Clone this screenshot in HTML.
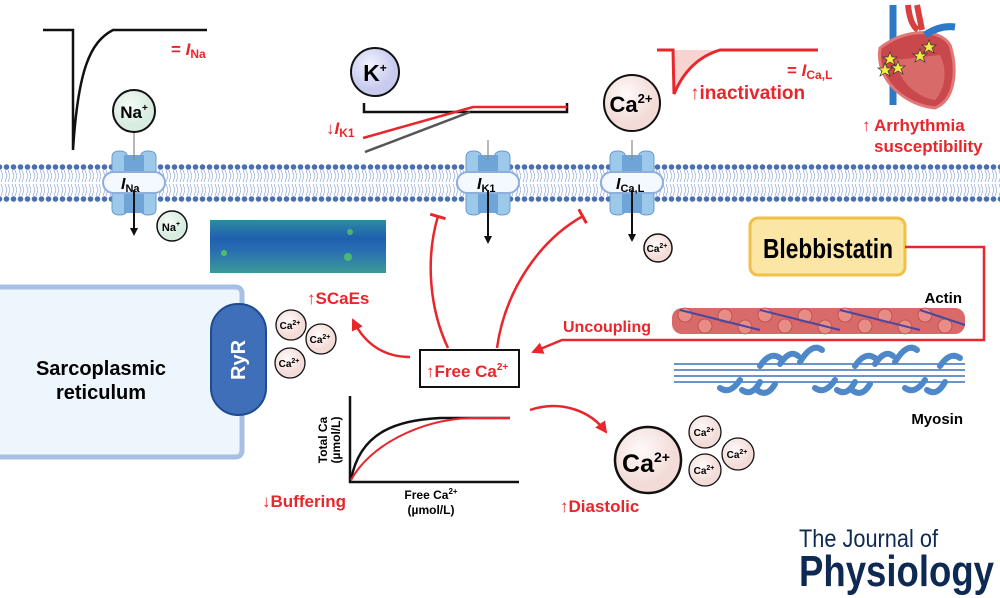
<!DOCTYPE html>
<html><head><meta charset="utf-8"><style>
html,body{margin:0;padding:0;background:#fff;}
svg{display:block;font-family:"Liberation Sans",sans-serif;}
.b{font-weight:bold}
.r{fill:#e8262c}
</style></head><body>
<svg width="1000" height="598" viewBox="0 0 1000 598" xmlns="http://www.w3.org/2000/svg">
<defs>
<pattern id="mem" x="3" y="0" width="7" height="598" patternUnits="userSpaceOnUse">
<circle cx="3.5" cy="167" r="2.8" fill="#4a6fb0"/>
<circle cx="3.5" cy="199" r="2.8" fill="#4a6fb0"/>
<path d="M2 170 L4 176 L2 182 M5 170 L7 176 L5 182 M2 184 L4 190 L2 196 M5 184 L7 190 L5 196" stroke="#8fa8d8" stroke-width="0.7" fill="none"/>
</pattern>
<marker id="ab" markerWidth="8" markerHeight="8" refX="4" refY="4" orient="auto" markerUnits="userSpaceOnUse"><path d="M0 0 L8 4 L0 8 Z" fill="#111"/></marker>
<marker id="ar" markerWidth="14" markerHeight="12" refX="10" refY="6" orient="auto" markerUnits="userSpaceOnUse"><path d="M0 0 L12 6 L0 12 Z" fill="#e8262c"/></marker>
<marker id="tb" markerWidth="4" markerHeight="16" refX="2" refY="8" orient="auto" markerUnits="userSpaceOnUse"><rect x="0" y="0" width="3" height="16" fill="#e8262c"/></marker>
<radialGradient id="gNa" cx="40%" cy="35%"><stop offset="0" stop-color="#f4fbf6"/><stop offset="1" stop-color="#d8ece0"/></radialGradient>
<radialGradient id="gK" cx="40%" cy="35%"><stop offset="0" stop-color="#f2f2ff"/><stop offset="1" stop-color="#c8cbee"/></radialGradient>
<radialGradient id="gCa" cx="40%" cy="35%"><stop offset="0" stop-color="#fffafa"/><stop offset="1" stop-color="#f3dcd8"/></radialGradient>
<linearGradient id="sc" x1="0" y1="0" x2="0" y2="1"><stop offset="0" stop-color="#2f8aa0"/><stop offset=".35" stop-color="#1f5fb0"/><stop offset=".6" stop-color="#2a70b0"/><stop offset="1" stop-color="#3a9a98"/></linearGradient>
</defs>

<rect x="0" y="160" width="1000" height="45" fill="url(#mem)"/>

<g id="ch">
<path d="M112 157 q0-6 8-6 q8 0 8 8 v0 h12 q0-8 8-8 q8 0 8 6 v52 q0 6-8 6 q-8 0-8-8 h-12 q0 8-8 8 q-8 0-8-6 z" fill="#9cc8ea" stroke="#6a9ccc" stroke-width="1"/>
<rect x="124" y="155" width="20" height="58" fill="#6ea4d6"/>
<rect x="103" y="172" width="62" height="21" rx="10.5" fill="#f4f8ff" stroke="#8eaedc" stroke-width="2"/>
</g>
<use href="#ch" x="354"/>
<use href="#ch" x="498"/>
<text x="121" y="189" class="b" font-size="16" font-style="italic">I<tspan font-size="11" font-style="normal" dy="3">Na</tspan></text>
<text x="477" y="189" class="b" font-size="16" font-style="italic">I<tspan font-size="11" font-style="normal" dy="3">K1</tspan></text>
<text x="616" y="189" class="b" font-size="16" font-style="italic">I<tspan font-size="11" font-style="normal" dy="3">Ca,L</tspan></text>

<line x1="134" y1="132" x2="134" y2="160" stroke="#888" stroke-width="1.2"/>
<line x1="134" y1="190" x2="134" y2="232" stroke="#111" stroke-width="2" marker-end="url(#ab)"/>
<line x1="488" y1="140" x2="488" y2="160" stroke="#888" stroke-width="1.2"/>
<line x1="488" y1="190" x2="488" y2="240" stroke="#111" stroke-width="2" marker-end="url(#ab)"/>
<line x1="632" y1="140" x2="632" y2="160" stroke="#888" stroke-width="1.2"/>
<line x1="632" y1="190" x2="632" y2="238" stroke="#111" stroke-width="2" marker-end="url(#ab)"/>

<circle cx="134" cy="111" r="21" fill="url(#gNa)" stroke="#111" stroke-width="2"/>
<text x="134" y="118" text-anchor="middle" class="b" font-size="17">Na<tspan font-size="10" dy="-7">+</tspan></text>
<circle cx="172" cy="226" r="15" fill="url(#gNa)" stroke="#111" stroke-width="1.5"/>
<text x="171" y="231" text-anchor="middle" class="b" font-size="11">Na<tspan font-size="7" dy="-5">+</tspan></text>
<circle cx="375" cy="72" r="24" fill="url(#gK)" stroke="#111" stroke-width="2"/>
<text x="375" y="81" text-anchor="middle" class="b" font-size="23">K<tspan font-size="12" dy="-9">+</tspan></text>
<circle cx="632" cy="103" r="28" fill="url(#gCa)" stroke="#111" stroke-width="2"/>
<text x="631" y="112" text-anchor="middle" class="b" font-size="22">Ca<tspan font-size="13" dy="-9">2+</tspan></text>
<circle cx="658" cy="248" r="14" fill="url(#gCa)" stroke="#111" stroke-width="1.5"/>
<text x="657" y="252" text-anchor="middle" class="b" font-size="10">Ca<tspan font-size="7" dy="-4">2+</tspan></text>

<path d="M43 30 H73 V150 C78 70 90 42 113 30 H207" fill="none" stroke="#111" stroke-width="2.5"/>
<text x="171" y="55" class="b r" font-size="17">= <tspan font-style="italic">I</tspan><tspan font-size="12" dy="3">Na</tspan></text>

<path d="M364 103 V112 H567 V103" fill="none" stroke="#111" stroke-width="2.5"/>
<path d="M365 152 L470 112" stroke="#555" stroke-width="2.5"/>
<path d="M363 138 L473 107 L567 107" fill="none" stroke="#e8262c" stroke-width="2.5"/>
<text x="326" y="134" class="b r" font-size="17">↓<tspan font-style="italic">I</tspan><tspan font-size="12" dy="3">K1</tspan></text>

<path d="M659 50 H673 L674 94 C684 70 700 56 720 50 Z" fill="#f8d4d0"/>
<path d="M657 50 H673 L674 94 C684 70 700 56 720 50 H818" fill="none" stroke="#e8262c" stroke-width="3"/>
<text x="787" y="76" class="b r" font-size="17">= <tspan font-style="italic">I</tspan><tspan font-size="12" dy="3">Ca,L</tspan></text>
<text x="690" y="99" class="b r" font-size="19">↑inactivation</text>

<g>
<path d="M893 5 v100" stroke="#2e78c8" stroke-width="7"/>
<path d="M908 5 q2 20 10 25 M917 5 q2 10 5 25" stroke="#d84040" stroke-width="6" fill="none"/>
<path d="M880 48 C875 80 905 105 935 108 C955 100 958 70 950 45 C940 28 905 28 880 48Z" fill="#c8484c" stroke="#e07878" stroke-width="3"/>
<path d="M895 60 C900 85 920 98 935 100 C945 90 948 70 940 55Z" fill="#d86a6a"/>
<path d="M925 35 q15 -10 30 -8" stroke="#2e78c8" stroke-width="7" fill="none"/>
<g fill="#f4ec40" stroke="#333" stroke-width=".7">
<polygon points="890,52 892,57 897,57 893,60 895,65 890,62 885,65 887,60 883,57 888,57"/>
<polygon points="885,63 887,68 892,68 888,71 890,76 885,73 880,76 882,71 878,68 883,68"/>
<polygon points="898,61 900,66 905,66 901,69 903,74 898,71 893,74 895,69 891,66 896,66"/>
<polygon points="920,49 922,54 927,54 923,57 925,62 920,59 915,62 917,57 913,54 918,54"/>
<polygon points="929,40 931,45 936,45 932,48 934,53 929,50 924,53 926,48 922,45 927,45"/>
</g>
</g>
<text x="862" y="131" class="b r" font-size="17">↑</text>
<text x="874" y="131" class="b r" font-size="17">Arrhythmia</text>
<text x="874" y="152" class="b r" font-size="17">susceptibility</text>

<rect x="750" y="218" width="155" height="57" rx="8" fill="#fbe6a6" stroke="#f0c048" stroke-width="3"/>
<text x="763" y="258" class="b" font-size="28" textLength="130" lengthAdjust="spacingAndGlyphs">Blebbistatin</text>
<path d="M905 247 H984 V340 H562 L533 352" fill="none" stroke="#e8262c" stroke-width="2.5" marker-end="url(#ar)"/>
<text x="563" y="332" class="b r" font-size="16">Uncoupling</text>

<g>
<rect x="672" y="308" width="293" height="26" rx="10" fill="#d86a6a"/>
<g fill="#e88c88" stroke="#c04848" stroke-width=".8">
<circle cx="685" cy="315" r="7"/><circle cx="705" cy="326" r="7"/><circle cx="725" cy="316" r="7"/><circle cx="745" cy="327" r="7"/><circle cx="765" cy="315" r="7"/><circle cx="785" cy="326" r="7"/><circle cx="805" cy="316" r="7"/><circle cx="825" cy="327" r="7"/><circle cx="845" cy="315" r="7"/><circle cx="865" cy="326" r="7"/><circle cx="885" cy="316" r="7"/><circle cx="905" cy="327" r="7"/><circle cx="925" cy="315" r="7"/><circle cx="945" cy="326" r="7"/>
</g>
<path d="M680 310 L760 330 M760 310 L840 330 M840 310 L920 330 M920 310 L965 325" stroke="#4848a0" stroke-width="2"/>
</g>
<text x="962" y="303" text-anchor="end" class="b" font-size="15">Actin</text>
<g stroke="#3a70b8" stroke-width="1.5">
<line x1="674" y1="364" x2="965" y2="364"/><line x1="674" y1="370" x2="965" y2="370"/><line x1="674" y1="376" x2="965" y2="376"/><line x1="674" y1="382" x2="965" y2="382"/>
</g>
<g fill="none" stroke="#4e88c8" stroke-width="6" stroke-linecap="round">
<path d="M760 366 q10-15 20-8"/><path d="M780 364 q10-15 18-8"/><path d="M800 362 q12-20 22-12"/>
<path d="M855 366 q10-15 20-8"/><path d="M875 364 q10-15 18-8"/><path d="M895 362 q12-20 22-12"/>
<path d="M940 366 q10-15 20-8"/>
<path d="M740 380 q-10 15 -20 8"/><path d="M760 382 q-8 15 -18 8"/><path d="M775 384 q-8 14 -18 6"/>
<path d="M835 380 q-10 15 -20 8"/><path d="M855 382 q-8 15 -18 8"/><path d="M870 384 q-8 14 -18 6"/>
<path d="M925 380 q-10 15 -20 8"/><path d="M945 382 q-8 15 -18 8"/>
</g>
<text x="963" y="424" text-anchor="end" class="b" font-size="15">Myosin</text>

<rect x="210" y="220" width="176" height="53" fill="url(#sc)"/>
<circle cx="224" cy="253" r="3" fill="#5cd05c" opacity=".8"/>
<circle cx="350" cy="232" r="3" fill="#5cd05c" opacity=".7"/>
<circle cx="348" cy="257" r="4" fill="#5cd05c" opacity=".7"/>

<path d="M0 287 H235 q7 0 7 7 V450 q0 7 -7 7 H0" fill="#eef6fd" stroke="#a6bfe4" stroke-width="5"/>
<text x="101" y="375" text-anchor="middle" class="b" font-size="20">Sarcoplasmic</text>
<text x="101" y="399" text-anchor="middle" class="b" font-size="20">reticulum</text>
<rect x="211" y="304" width="55" height="111" rx="27" fill="#3f6fb8" stroke="#1f4a90" stroke-width="2"/>
<text x="0" y="0" transform="translate(245 360) rotate(-90)" text-anchor="middle" class="b" font-size="20" fill="#fff">RyR</text>

<g font-size="10" class="b" text-anchor="middle">
<circle cx="291" cy="325" r="15" fill="url(#gCa)" stroke="#111" stroke-width="1.3"/><text x="290" y="329">Ca<tspan font-size="7" dy="-4">2+</tspan></text>
<circle cx="321" cy="339" r="15" fill="url(#gCa)" stroke="#111" stroke-width="1.3"/><text x="320" y="343">Ca<tspan font-size="7" dy="-4">2+</tspan></text>
<circle cx="290" cy="363" r="15" fill="url(#gCa)" stroke="#111" stroke-width="1.3"/><text x="289" y="367">Ca<tspan font-size="7" dy="-4">2+</tspan></text>
</g>
<text x="307" y="304" class="b r" font-size="17">↑SCaEs</text>
<path d="M410 357 C385 357 365 345 353 320" fill="none" stroke="#e8262c" stroke-width="2.5" marker-end="url(#ar)"/>

<rect x="420" y="350" width="99" height="37" fill="#fff" stroke="#111" stroke-width="2"/>
<text x="426" y="377" class="b r" font-size="17">↑Free Ca<tspan font-size="10" dy="-7">2+</tspan></text>
<path d="M448 348 C430 310 425 260 438 216" fill="none" stroke="#e8262c" stroke-width="2.5" marker-end="url(#tb)"/>
<path d="M497 348 C505 290 540 240 583 216" fill="none" stroke="#e8262c" stroke-width="2.5" marker-end="url(#tb)"/>

<path d="M350 396 V482 H519" fill="none" stroke="#111" stroke-width="2.5"/>
<path d="M351 480 C360 430 400 420 440 418 L510 418" fill="none" stroke="#111" stroke-width="2.5"/>
<path d="M351 480 C370 445 420 420 470 418 L510 418" fill="none" stroke="#e8262c" stroke-width="2"/>
<text x="0" y="0" transform="translate(327 440) rotate(-90)" text-anchor="middle" class="b" font-size="12">Total Ca</text>
<text x="0" y="0" transform="translate(340 440) rotate(-90)" text-anchor="middle" class="b" font-size="12">(µmol/L)</text>
<text x="431" y="499" text-anchor="middle" class="b" font-size="12">Free Ca<tspan font-size="8" dy="-5">2+</tspan></text>
<text x="431" y="514" text-anchor="middle" class="b" font-size="12">(µmol/L)</text>
<text x="262" y="507" class="b r" font-size="17">↓Buffering</text>

<path d="M530 410 C560 400 590 410 606 432" fill="none" stroke="#e8262c" stroke-width="2.5" marker-end="url(#ar)"/>
<circle cx="648" cy="460" r="33" fill="url(#gCa)" stroke="#111" stroke-width="2.5"/>
<text x="646" y="472" text-anchor="middle" class="b" font-size="25">Ca<tspan font-size="14" dy="-10">2+</tspan></text>
<g font-size="10" class="b" text-anchor="middle">
<circle cx="705" cy="432" r="16" fill="url(#gCa)" stroke="#111" stroke-width="1.3"/><text x="704" y="436">Ca<tspan font-size="7" dy="-4">2+</tspan></text>
<circle cx="738" cy="454" r="16" fill="url(#gCa)" stroke="#111" stroke-width="1.3"/><text x="737" y="458">Ca<tspan font-size="7" dy="-4">2+</tspan></text>
<circle cx="705" cy="470" r="16" fill="url(#gCa)" stroke="#111" stroke-width="1.3"/><text x="704" y="474">Ca<tspan font-size="7" dy="-4">2+</tspan></text>
</g>
<text x="560" y="512" class="b r" font-size="17">↑Diastolic</text>

<text x="799" y="547" font-size="25" fill="#0f2a52" textLength="139" lengthAdjust="spacingAndGlyphs">The Journal of</text>
<text x="799" y="586" class="b" font-size="44" fill="#0f2a52" textLength="195" lengthAdjust="spacingAndGlyphs">Physiology</text>
</svg>
</body></html>
